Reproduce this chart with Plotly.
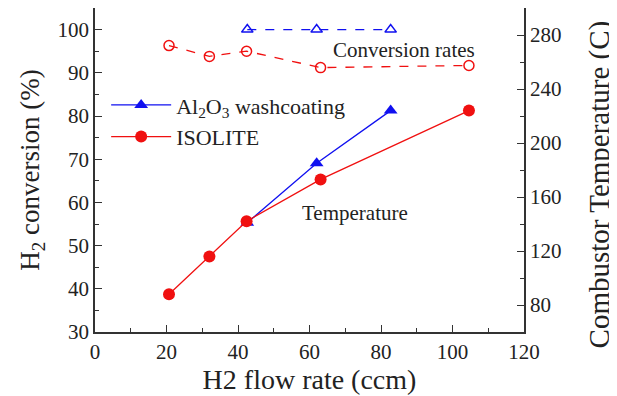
import plotly.graph_objects as go

# Data
iso_flow = [20.7, 32.0, 42.4, 63.1, 104.6]
iso_temp = [88, 116, 142, 173, 224]
iso_conv = [96.3, 93.8, 95.0, 91.2, 91.7]
al_flow = [42.6, 62.0, 82.7]
al_temp = [141, 185, 224]
al_conv = [100, 100, 100]

BLUE = "#1010f0"
RED = "#f01010"
FONT = "Liberation Serif"
AX = "#333333"

fig = go.Figure()
# Conversion (dashed, left axis)
fig.add_trace(go.Scatter(x=al_flow, y=al_conv, mode="lines+markers", showlegend=False,
                         line=dict(color=BLUE, dash="dash", width=1.3),
                         marker=dict(symbol="triangle-up-open", size=10, color=BLUE, line=dict(width=1.5)),
                         yaxis="y"))
fig.add_trace(go.Scatter(x=iso_flow, y=iso_conv, mode="lines+markers", showlegend=False,
                         line=dict(color=RED, dash="dash", width=1.3),
                         marker=dict(symbol="circle-open", size=10, color=RED, line=dict(width=1.5)),
                         yaxis="y"))
# Temperature (solid, right axis)
fig.add_trace(go.Scatter(x=al_flow, y=al_temp, mode="lines+markers",
                         name="Al<sub>2</sub>O<sub>3</sub> washcoating",
                         line=dict(color=BLUE, width=1.3),
                         marker=dict(symbol="triangle-up", size=12, color=BLUE),
                         yaxis="y2"))
fig.add_trace(go.Scatter(x=iso_flow, y=iso_temp, mode="lines+markers",
                         name="ISOLITE",
                         line=dict(color=RED, width=1.3),
                         marker=dict(symbol="circle", size=12, color=RED),
                         yaxis="y2"))

fig.add_annotation(x=0.72, y=95.3, xref="paper", yref="y", text="Conversion rates",
                   xanchor="center", yanchor="middle",
                   showarrow=False, font=dict(family=FONT, size=21, color="#222"))
fig.add_annotation(x=0.606, y=57.6, xref="paper", yref="y", text="Temperature",
                   xanchor="center", yanchor="middle",
                   showarrow=False, font=dict(family=FONT, size=21, color="#222"))
# Right axis title
fig.add_annotation(x=1.176, y=0.454, xref="paper", yref="paper", text="Combustor Temperature (C)",
                   textangle=-90, xanchor="center", yanchor="middle",
                   showarrow=False, font=dict(family=FONT, size=29, color="#222"))

fig.update_layout(
    width=609, height=388,
    margin=dict(l=87, r=93, t=0, b=64),
    paper_bgcolor="white", plot_bgcolor="white",
    font=dict(family=FONT, size=21, color="#222"),
    showlegend=True,
    legend=dict(x=0.026, y=0.765, xanchor="left", yanchor="top",
                bgcolor="rgba(0,0,0,0)", font=dict(family=FONT, size=22),
                itemwidth=60),
    xaxis=dict(range=[0, 120], dtick=20, tick0=0, showgrid=False, zeroline=False,
               automargin=False,
               showline=True, linecolor=AX, linewidth=1.5, mirror=True,
               ticks="inside", ticklen=7, tickcolor=AX,
               tickfont=dict(family=FONT, size=21),
               minor=dict(ticks="inside", dtick=10, ticklen=4, tickcolor=AX),
               title=dict(text="H2 flow rate (ccm)", font=dict(family=FONT, size=28), standoff=6)),
    yaxis=dict(range=[30, 105], dtick=10, tick0=30, showgrid=False, zeroline=False,
               automargin=False,
               showline=True, linecolor=AX, linewidth=1.5,
               ticks="inside", ticklen=7, tickcolor=AX,
               tickfont=dict(family=FONT, size=21),
               minor=dict(ticks="inside", dtick=5, ticklen=4, tickcolor=AX),
               title=dict(text="H<sub>2</sub> conversion (%)", font=dict(family=FONT, size=27), standoff=10)),
    yaxis2=dict(range=[60, 300], dtick=40, tick0=80, overlaying="y", side="right",
                showgrid=False, zeroline=False, automargin=False,
                showline=True, linecolor=AX, linewidth=1.5,
                ticks="inside", ticklen=7, tickcolor=AX,
                tickfont=dict(family=FONT, size=21),
                minor=dict(ticks="inside", dtick=20, ticklen=4, tickcolor=AX)),
)

fig.write_html("out.html")
